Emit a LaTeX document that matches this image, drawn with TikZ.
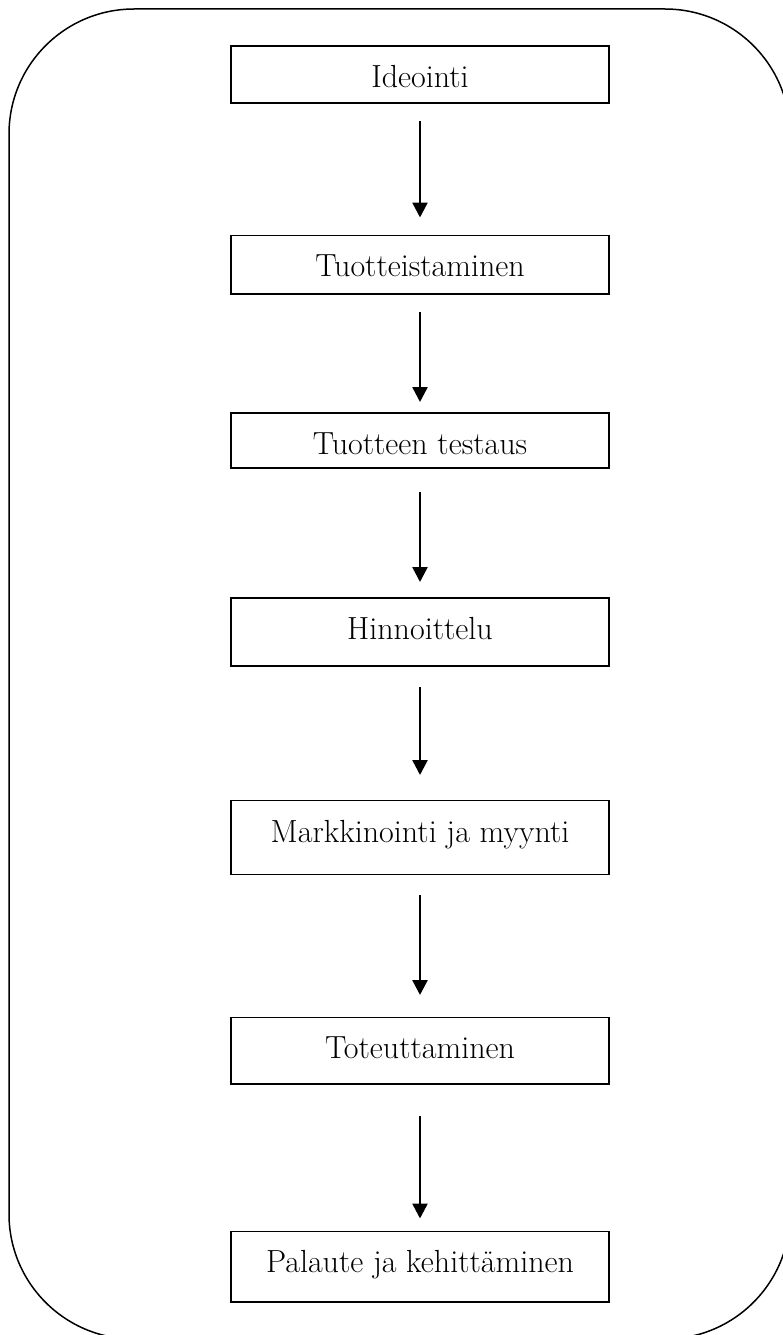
\documentclass[tikz,border=0pt]{standalone}
\usetikzlibrary{arrows.meta}
\begin{document}
\begin{tikzpicture}[x=1pt,y=-1pt,
  stage/.style={draw,line width=1.8pt,anchor=north,minimum width=378pt,inner ysep=0pt,text height=41.5pt,font=\fontsize{32}{38}\selectfont},
  flow/.style={line width=2.5pt,-{Triangle[length=15pt,width=15pt]}}]
\useasboundingbox (0,0) rectangle (782,1335);
\draw [line width=1.5pt,rounded corners=125pt](9,9) rectangle (790,1339);
\node [stage,text depth=15.5pt] (ideointi) at (420,45) {Ideointi};
\node [stage,text depth=17.3pt] (tuotteistaminen) at (420,234.5) {Tuotteistaminen};
\node [stage,text depth=13.3pt] (testaus) at (420,412) {Tuotteen testaus};
\node [stage,text depth=26.5pt] (hinnoittelu) at (420,597) {Hinnoittelu};
\node [stage,text depth=32.4pt] (markkinointi) at (420,799.6) {Markkinointi ja myynti};
\node [stage,text depth=25pt] (toteutus) at (420,1016.5) {Toteuttaminen};
\node [stage,text depth=29pt] (palaute) at (420,1230.5) {Palaute ja kehittäminen};
\draw [flow,shorten <=17pt,shorten >=17pt](ideointi) -- (tuotteistaminen);
\draw [flow,shorten <=16.7pt,shorten >=10pt](tuotteistaminen) -- (testaus);
\draw [flow,shorten <=23pt,shorten >=15pt](testaus) -- (hinnoittelu);
\draw [flow,shorten <=20pt,shorten >=24.6pt](hinnoittelu) -- (markkinointi);
\draw [flow,shorten <=19.7pt,shorten >=21.5pt](markkinointi) -- (toteutus);
\draw [flow,shorten <=31.5pt,shorten >=12pt](toteutus) -- (palaute);
\end{tikzpicture}
\end{document}
